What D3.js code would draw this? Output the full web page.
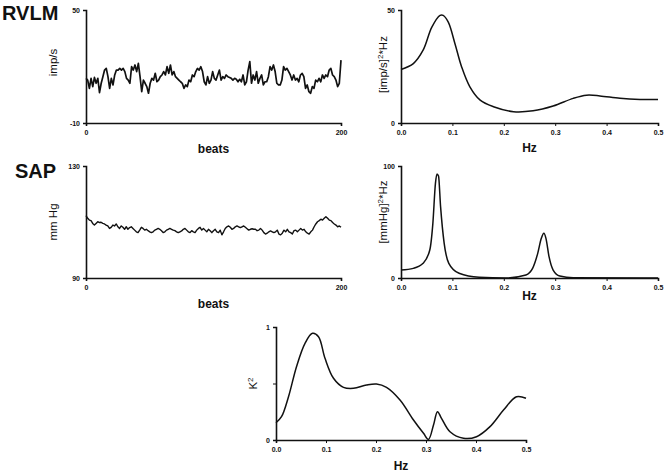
<!DOCTYPE html>
<html>
<head>
<meta charset="utf-8">
<script src="https://cdn.jsdelivr.net/npm/d3@7"></script>
<style>
  body { margin: 0; background: #fff; }
  svg { font-family: "Liberation Sans", Arial, sans-serif; color: #111; }
  .tick text { font-size: 7px; font-weight: bold; fill: #111; }
  .tick line, .domain { stroke: #111; }
</style>
</head>
<body>
<div id="chart"></div>
<script>
// RVLM firing rate, imp/s, one reading per ~1.3 beats over 0-200 beats
var rvlmRate = [
  13.7,12.8,8.4,13.7,9.3,14.2,11.1,13.7,6.1,11.1,
  14.6,18.1,19.0,14.6,8.4,13.7,10.2,15.5,18.1,18.1,
  19.0,18.1,19.0,17.3,13.7,12.8,11.1,19.9,18.1,20.8,
  17.3,21.7,14.6,6.6,12.8,11.1,9.3,5.8,11.1,13.7,
  12.8,16.4,11.9,12.8,14.6,15.5,17.3,15.5,19.9,16.4,
  20.8,15.5,17.3,14.6,13.7,12.8,11.9,11.1,8.4,10.2,
  9.3,12.8,11.9,15.5,14.6,17.3,19.0,18.1,19.9,17.3,
  11.9,10.2,14.6,11.1,12.8,17.3,13.7,12.8,15.5,18.1,
  12.8,14.6,13.7,15.5,14.6,14.2,13.7,12.8,13.7,13.2,
  11.9,13.2,11.9,15.5,10.2,11.9,18.1,22.6,11.1,15.5,
  12.8,17.3,11.1,13.7,15.5,10.2,11.9,11.9,14.6,19.9,
  18.1,20.8,17.3,11.1,10.2,10.2,12.8,19.9,18.1,19.0,
  17.3,15.5,12.8,15.5,12.8,13.7,11.9,15.5,16.4,14.6,
  8.4,10.2,6.6,5.8,9.3,8.4,12.8,11.9,13.7,11.9,
  15.5,13.7,15.5,14.6,18.1,19.0,15.5,14.6,12.8,9.3,
  11.1,23.4
];

// systolic arterial pressure, mm Hg
var sapPressure = [
  112.3,111.3,110.7,110.5,109.5,108.9,109.5,110.1,109.8,109.9,
  109.5,109.3,108.9,108.6,107.7,108.1,108.9,108.6,109.3,108.3,
  107.7,108.6,108.1,107.4,108.3,107.4,108.0,108.3,107.7,107.1,
  106.5,106.2,107.1,108.1,107.7,107.1,107.4,106.9,106.5,106.2,
  106.5,107.1,107.4,107.7,107.4,106.9,106.2,106.5,107.1,107.4,
  107.7,107.4,107.1,106.9,106.5,106.2,106.5,106.8,107.4,107.7,
  107.1,106.5,106.2,106.9,106.5,106.2,107.1,107.7,108.1,107.1,
  107.7,107.1,106.5,107.4,106.9,106.2,106.9,107.4,106.5,106.2,
  107.1,105.4,106.5,107.7,108.3,108.6,108.1,107.4,107.7,108.3,
  108.6,108.3,108.0,108.3,108.6,108.1,107.6,107.1,107.4,107.6,
  107.4,107.4,106.9,107.1,107.7,107.1,106.2,105.7,106.0,106.5,
  106.8,106.5,106.2,106.5,107.1,105.7,105.4,106.0,107.1,106.5,
  107.4,106.5,106.2,105.7,106.9,107.1,106.5,107.1,107.7,107.1,
  107.4,106.5,106.0,105.7,106.5,107.1,108.3,109.3,110.1,110.5,
  111.0,110.7,111.3,111.9,111.3,110.7,110.5,109.8,109.3,108.9,
  108.3,108.6,108.1
];

// RVLM power spectrum
var rvlmFreq  = [0, 0.024, 0.043, 0.060, 0.076, 0.082, 0.092, 0.105, 0.118, 0.134, 0.154, 0.180, 0.219, 0.257, 0.296, 0.335, 0.361, 0.387, 0.426, 0.465, 0.5];
var rvlmPower = [23.7, 26.3, 32.2, 42.4, 47.6, 47.6, 44.6, 35.1, 24.8, 16.0, 10.1, 7.2, 5.0, 5.4, 7.5, 10.9, 12.3, 12.0, 10.9, 10.4, 10.4];

// SAP power spectrum
var sapFreq  = [0, 0.024, 0.043, 0.056, 0.062, 0.067, 0.070, 0.073, 0.077, 0.084, 0.093, 0.113, 0.152, 0.204, 0.243, 0.256, 0.266, 0.273, 0.278, 0.282, 0.288, 0.296, 0.309, 0.335, 0.5];
var sapPower = [7.1, 8.6, 13.1, 25, 48.8, 84.5, 92.9, 91, 63.7, 31, 13.1, 4.2, 0.6, 0, 2.7, 8.6, 22, 35.4, 39.9, 35.4, 19, 7.1, 1.8, 0.3, 0];

// coherence K2 between RVLM and SAP
var cohFreq = [0, 0.011, 0.025, 0.041, 0.058, 0.073, 0.085, 0.098, 0.115, 0.135, 0.155, 0.181, 0.201, 0.221, 0.248, 0.275, 0.295, 0.305, 0.315, 0.323, 0.331, 0.348, 0.375, 0.401, 0.428, 0.455, 0.481, 0.5];
var cohK2   = [0.153, 0.206, 0.383, 0.649, 0.856, 0.944, 0.914, 0.723, 0.546, 0.466, 0.457, 0.487, 0.496, 0.466, 0.354, 0.177, 0.059, 0.005, 0.133, 0.251, 0.192, 0.073, 0.015, 0.029, 0.118, 0.265, 0.383, 0.37];

var beatTicks = [0, 200];
var hzTicks = [0, 0.1, 0.2, 0.3, 0.4, 0.5];

var svg = d3.select('#chart').append('svg')
        .attr('width', 666)
        .attr('height', 473);

function zipPts(xs, ys) {
        return xs.map(function (x, i) { return [x, ys[i]]; });
}
function beatPts(vals) {
        return vals.map(function (v, i) { return [i * 200 / (vals.length - 1), v]; });
}

// one panel: box is left, top, right, bottom of the plotting area in px
function panel(o) {
        var x = d3.scaleLinear().domain(o.xdom).range([o.box[0], o.box[2]]);
        var y = d3.scaleLinear().domain(o.ydom).range([o.box[3], o.box[1]]);
        var g = svg.append('g');

        g.append('g')
                .attr('transform', 'translate(0,' + o.box[3] + ')')
                .call(d3.axisBottom(x).tickValues(o.xticks).tickSize(3).tickPadding(4).tickFormat(o.xfmt))
                .call(function (a) { a.select('.domain').attr('stroke-width', 1.6); });

        g.append('g')
                .attr('transform', 'translate(' + o.box[0] + ',0)')
                .call(d3.axisLeft(y).tickValues(o.yticks).tickSize(3).tickPadding(3)
                        .tickFormat(function (d) { return o.ylabels.indexOf(d) >= 0 ? d : ''; }))
                .call(function (a) { a.select('.domain').attr('stroke-width', 1.6); });

        var line = d3.line()
                .x(function (d) { return x(d[0]); })
                .y(function (d) { return y(d[1]); })
                .curve(o.curve);

        g.append('path')
                .datum(o.pts)
                .attr('fill', 'none')
                .attr('stroke', '#111')
                .attr('stroke-width', o.sw)
                .attr('stroke-linejoin', 'round')
                .attr('d', line);

        g.append('text')
                .attr('x', (o.box[0] + o.box[2]) / 2)
                .attr('y', o.xlabY)
                .attr('text-anchor', 'middle')
                .attr('font-size', 12)
                .attr('font-weight', 'bold')
                .attr('fill', '#111')
                .text(o.xlab);

        var yl = g.append('text')
                .attr('transform', 'translate(' + o.ylabX + ',' + ((o.box[1] + o.box[3]) / 2 + (o.ylabDy || 0)) + ') rotate(-90)')
                .attr('text-anchor', 'middle')
                .attr('font-size', 11.5)
                .attr('fill', '#111');
        o.ylab.forEach(function (p) {
                var t = yl.append('tspan').text(p[0]);
                if (p[1]) t.attr('baseline-shift', 'super').attr('font-size', 8);
        });
        return g;
}

panel({ box: [86, 10, 341, 123], xdom: [0, 200], ydom: [-10, 50],
        xticks: beatTicks, xfmt: d3.format('d'), yticks: [-10, 50], ylabels: [-10, 50],
        pts: beatPts(rvlmRate), curve: d3.curveLinear, sw: 1.7,
        xlab: 'beats', xlabY: 153, ylab: [['imp/s']], ylabX: 57, ylabDy: -4 });

panel({ box: [401, 10, 658, 123], xdom: [0, 0.5], ydom: [0, 50],
        xticks: hzTicks, xfmt: d3.format('.1f'), yticks: [0, 50], ylabels: [0, 50],
        pts: zipPts(rvlmFreq, rvlmPower), curve: d3.curveCatmullRom.alpha(0.5), sw: 1.5,
        xlab: 'Hz', xlabY: 152, ylab: [['[imp/s]'], ['2', true], ['*Hz']], ylabX: 387, ylabDy: -2 });

panel({ box: [86, 166, 341, 278], xdom: [0, 200], ydom: [90, 130],
        xticks: beatTicks, xfmt: d3.format('d'), yticks: [90, 130], ylabels: [90, 130],
        pts: beatPts(sapPressure), curve: d3.curveLinear, sw: 1.4,
        xlab: 'beats', xlabY: 308, ylab: [['mm Hg']], ylabX: 57, ylabDy: 0 });

panel({ box: [401, 166, 658, 278], xdom: [0, 0.5], ydom: [0, 100],
        xticks: hzTicks, xfmt: d3.format('.1f'), yticks: [0, 100], ylabels: [0, 100],
        pts: zipPts(sapFreq, sapPower), curve: d3.curveMonotoneX, sw: 1.5,
        xlab: 'Hz', xlabY: 300, ylab: [['[mmHg]'], ['2', true], ['*Hz']], ylabX: 387, ylabDy: -10 });

panel({ box: [276, 327, 526, 440], xdom: [0, 0.5], ydom: [0, 1],
        xticks: hzTicks, xfmt: d3.format('.1f'), yticks: [0, 0.5, 1], ylabels: [0, 1],
        pts: zipPts(cohFreq, cohK2), curve: d3.curveCatmullRom.alpha(0.5), sw: 1.5,
        xlab: 'Hz', xlabY: 470, ylab: [['K'], ['2', true]], ylabX: 257, ylabDy: 0 });

svg.append('text').attr('x', 2).attr('y', 20)
        .attr('font-size', 20).attr('font-weight', 'bold').attr('fill', '#111')
        .text('RVLM');
svg.append('text').attr('x', 15).attr('y', 178)
        .attr('font-size', 20).attr('font-weight', 'bold').attr('fill', '#111')
        .text('SAP');
</script>
</body>
</html>
